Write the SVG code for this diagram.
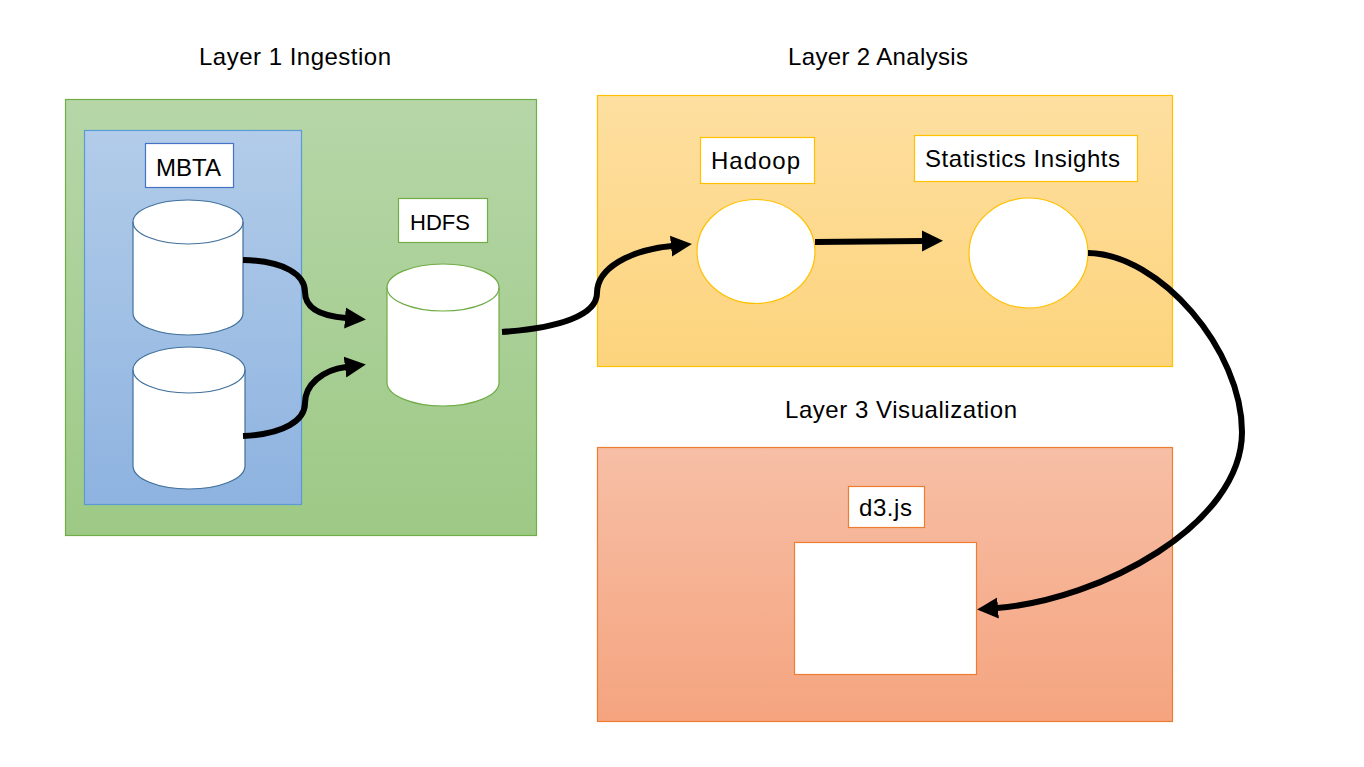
<svg xmlns="http://www.w3.org/2000/svg" width="1364" height="767" viewBox="0 0 1364 767">
<defs>
<linearGradient id="gGreen" x1="0" y1="0" x2="0" y2="1"><stop offset="0" stop-color="#b6d6a8"/><stop offset="1" stop-color="#9dc985"/></linearGradient>
<linearGradient id="gBlue" x1="0" y1="0" x2="0" y2="1"><stop offset="0" stop-color="#b2cce9"/><stop offset="1" stop-color="#8eb3e0"/></linearGradient>
<linearGradient id="gYellow" x1="0" y1="0" x2="0" y2="1"><stop offset="0" stop-color="#fedfa0"/><stop offset="1" stop-color="#fdd47d"/></linearGradient>
<linearGradient id="gOrange" x1="0" y1="0" x2="0" y2="1"><stop offset="0" stop-color="#f7bfa6"/><stop offset="1" stop-color="#f5a47f"/></linearGradient>
<marker id="arrow" markerUnits="userSpaceOnUse" markerWidth="22" markerHeight="22" refX="1" refY="10.5" orient="auto" viewBox="0 0 22 21">
<path d="M0,0 L21,10.5 L0,21 z" fill="#000"/>
</marker>
</defs>
<style>
.title{font-family:"Liberation Sans",Arial,sans-serif;font-size:24px;fill:#000;text-anchor:middle}
.lbl{font-family:"Liberation Sans",Arial,sans-serif;font-size:24px;fill:#000}
.lblbox{fill:#fff;stroke-width:1.2}
.conn{fill:none;stroke:#000;stroke-width:6;marker-end:url(#arrow)}
.cyl{fill:#fff;stroke-width:1.2}
</style>
<rect width="1364" height="767" fill="#fff"/>

<g id="layer1">
<rect x="65.5" y="99.5" width="471" height="436" fill="url(#gGreen)" stroke="#70ad47" stroke-width="1.2"/>
<text class="title" x="295" y="65" textLength="192">Layer 1 Ingestion</text>
</g>
<g id="mbta-group">
<rect x="84.5" y="130.5" width="217" height="374" fill="url(#gBlue)" stroke="#5b9bd5" stroke-width="1.2"/>
</g>
<g id="mbta-label">
<rect class="lblbox" x="145.5" y="143.5" width="88" height="44" stroke="#4472c4"/>
<text class="lbl" x="156" y="176" textLength="65">MBTA</text>
</g>
<g id="mbta-db1">
<path class="cyl" stroke="#41719c" d="M133,222 A55,22 0 0 1 243,222 L243,313 A55,22 0 0 1 133,313 Z"/>
<path fill="none" stroke="#41719c" stroke-width="1.2" d="M133,222 A55,22 0 0 0 243,222"/>
</g>
<g id="mbta-db2">
<path class="cyl" stroke="#41719c" d="M133,370 A56,23 0 0 1 245,370 L245,466 A56,23 0 0 1 133,466 Z"/>
<path fill="none" stroke="#41719c" stroke-width="1.2" d="M133,370 A56,23 0 0 0 245,370"/>
</g>
<g id="hdfs-label">
<rect class="lblbox" x="398.5" y="198.5" width="89" height="44" stroke="#70ad47"/>
<text class="lbl" x="410" y="230" style="font-size:22px">HDFS</text>
</g>
<g id="hdfs-db">
<path class="cyl" stroke="#70ad47" d="M387,287.5 A56,23.5 0 0 1 499,287.5 L499,382.5 A56,23.5 0 0 1 387,382.5 Z"/>
<path fill="none" stroke="#70ad47" stroke-width="1.2" d="M387,287.5 A56,23.5 0 0 0 499,287.5"/>
</g>

<g id="layer2">
<rect x="597.5" y="95.5" width="575" height="271" fill="url(#gYellow)" stroke="#ffc000" stroke-width="1.2"/>
<text class="title" x="878" y="65" textLength="180">Layer 2 Analysis</text>
</g>
<g id="hadoop-label">
<rect class="lblbox" x="700.5" y="137.5" width="114" height="46" stroke="#ffc000"/>
<text class="lbl" x="711" y="169" textLength="89">Hadoop</text>
</g>
<g id="hadoop">
<ellipse cx="756" cy="251.5" rx="59" ry="52" fill="#fff" stroke="#ffc000" stroke-width="1.2"/>
</g>
<g id="stats-label">
<rect class="lblbox" x="914.5" y="135.5" width="223" height="46" stroke="#ffc000"/>
<text class="lbl" x="925" y="167" textLength="195">Statistics Insights</text>
</g>
<g id="stats">
<ellipse cx="1028.5" cy="253" rx="59.5" ry="55" fill="#fff" stroke="#ffc000" stroke-width="1.2"/>
</g>

<g id="layer3">
<rect x="597.5" y="447.5" width="575" height="274" fill="url(#gOrange)" stroke="#ed7d31" stroke-width="1.2"/>
<text class="title" x="901" y="418" textLength="232">Layer 3 Visualization</text>
</g>
<g id="d3-label">
<rect class="lblbox" x="848.5" y="486.5" width="76" height="41" stroke="#ed7d31"/>
<text class="lbl" x="859" y="516" textLength="53">d3.js</text>
</g>
<g id="d3">
<rect x="794.5" y="542.5" width="182" height="132" fill="#fff" stroke="#ed7d31" stroke-width="1.2"/>
</g>

<g id="connectors">
<path class="conn" d="M243,260 C285,261 305,275 305,292 C305,308 320,316 346,318"/>
<path class="conn" d="M243,436 C285,434 305,420 305,403 C305,385 322,370 346,367"/>
<path class="conn" d="M502,332 C560,328 597,315 597,293 C597,268 630,250 672,246"/>
<path class="conn" d="M815,242 L923,241"/>
<path class="conn" d="M1088,253 C1160,254 1242,350 1242,432 C1242,525 1100,600 997,608"/>
</g>
</svg>
